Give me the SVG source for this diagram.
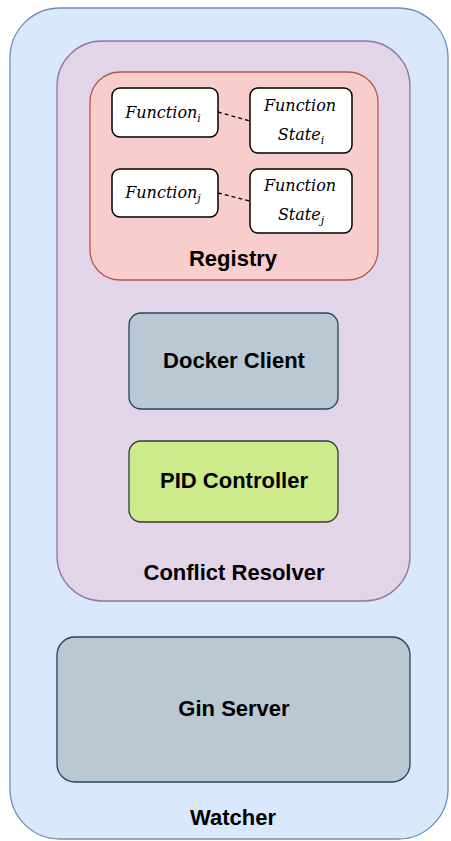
<svg xmlns="http://www.w3.org/2000/svg" width="451" height="841" viewBox="0 0 451 841">
  <style>
    .label { font-family: "Liberation Sans", Arial, Helvetica, sans-serif; font-weight: bold; font-size: 22px; fill: #000; text-anchor: middle; }
    .fn { font-family: "DejaVu Serif", "Liberation Serif", serif; font-style: italic; font-size: 16px; fill: #000; text-anchor: middle; }
    .sub { font-size: 11px; }
    .item { fill: #ffffff; stroke: #000000; stroke-width: 1.5; }
    .link { stroke: #000000; stroke-width: 1.3; stroke-dasharray: 4 3; fill: none; }
  </style>

  <!-- Watcher container -->
  <g id="watcher">
    <rect x="10" y="8" width="438" height="831" rx="50" ry="50" fill="#dae8fc" stroke="#6c8ebf" stroke-width="1.3"/>
    <text class="label" x="233" y="825">Watcher</text>
  </g>

  <!-- Conflict Resolver container -->
  <g id="conflict-resolver">
    <rect x="57" y="41" width="353" height="560" rx="45" ry="45" fill="#e1d5e7" stroke="#9673a6" stroke-width="1.3"/>
    <text class="label" x="234" y="580">Conflict Resolver</text>
  </g>

  <!-- Registry container -->
  <g id="registry">
    <rect x="90" y="72" width="288" height="208" rx="30" ry="30" fill="#f8cecc" stroke="#b85450" stroke-width="1.3"/>
    <text class="label" x="233" y="266">Registry</text>
  </g>

  <g id="function-i">
    <rect class="item" x="112" y="88" width="106" height="49" rx="8" ry="8"/>
    <text class="fn" x="163" y="118">Function<tspan class="sub" dy="4">i</tspan></text>
  </g>
  <g id="function-state-i">
    <rect class="item" x="250" y="88" width="102" height="65" rx="8" ry="8"/>
    <text class="fn" x="300" y="111">Function</text>
    <text class="fn" x="301" y="140">State<tspan class="sub" dy="4">i</tspan></text>
  </g>
  <g id="function-j">
    <rect class="item" x="112" y="169" width="106" height="48" rx="8" ry="8"/>
    <text class="fn" x="163" y="198">Function<tspan class="sub" dy="4">j</tspan></text>
  </g>
  <g id="function-state-j">
    <rect class="item" x="250" y="169" width="102" height="64" rx="8" ry="8"/>
    <text class="fn" x="300" y="191">Function</text>
    <text class="fn" x="301" y="220">State<tspan class="sub" dy="4">j</tspan></text>
  </g>

  <g id="docker-client">
    <rect x="129" y="313" width="209" height="96" rx="12" ry="12" fill="#bac8d3" stroke="#23445d" stroke-width="1.3"/>
    <text class="label" x="234" y="368">Docker Client</text>
  </g>

  <g id="pid-controller">
    <rect x="129" y="441" width="209" height="81" rx="12" ry="12" fill="#cdeb8b" stroke="#36393d" stroke-width="1.3"/>
    <text class="label" x="234" y="488">PID Controller</text>
  </g>

  <g id="gin-server">
    <rect x="57" y="637" width="353" height="145" rx="18" ry="18" fill="#bac8d3" stroke="#23445d" stroke-width="1.3"/>
    <text class="label" x="234" y="716">Gin Server</text>
  </g>

  <!-- Dashed associations between functions and their state -->
  <g id="connectors">
    <line class="link" x1="218" y1="112" x2="250" y2="121"/>
    <line class="link" x1="218" y1="193" x2="250" y2="201"/>
  </g>
</svg>
